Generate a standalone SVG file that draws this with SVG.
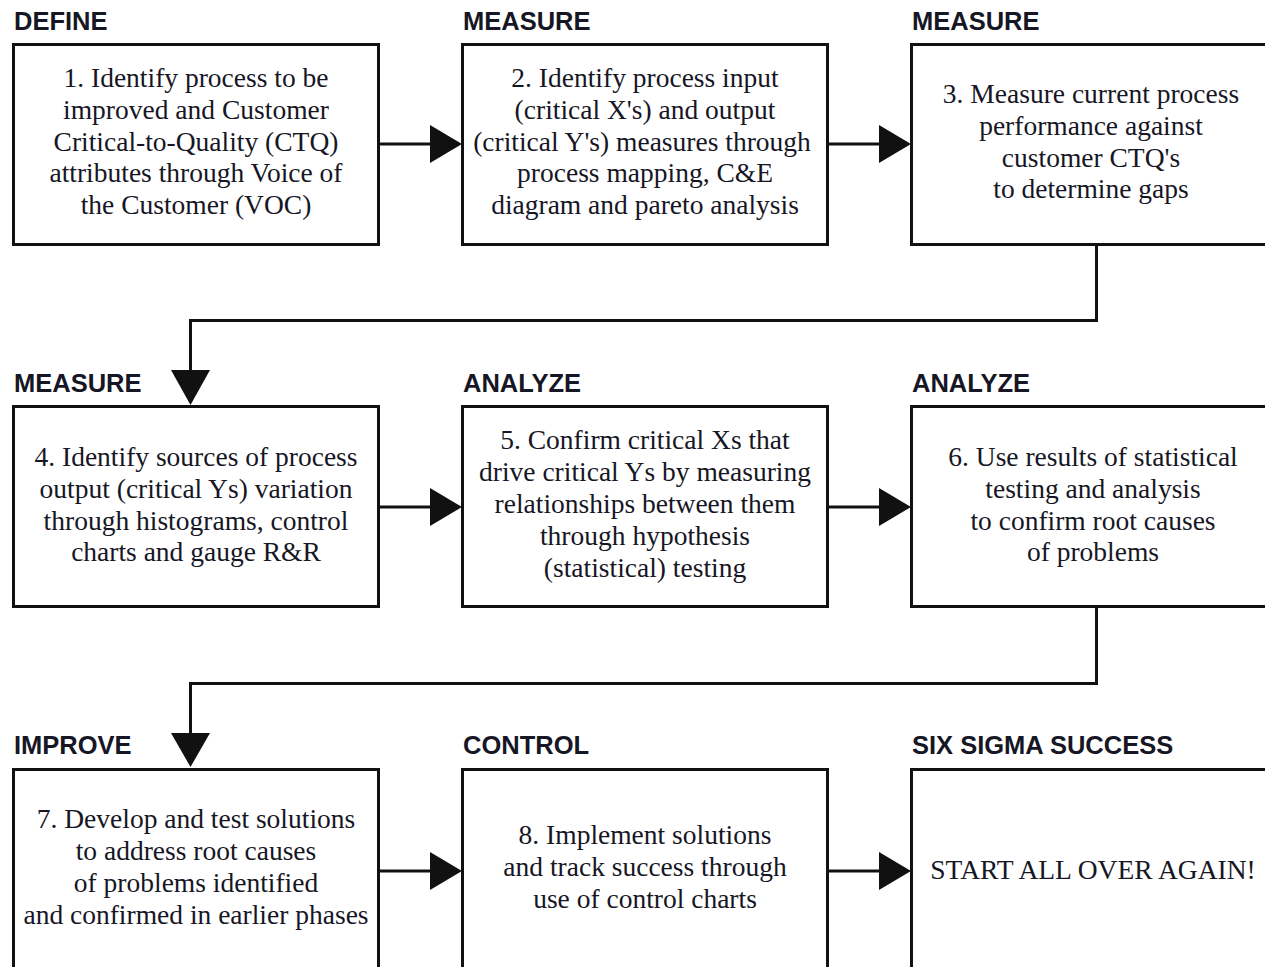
<svg xmlns="http://www.w3.org/2000/svg" width="1265" height="967" viewBox="0 0 1265 967">
<defs>
<style>
.box{fill:#fff;stroke:#111;stroke-width:3}
.hdr{font-family:"Liberation Sans",Arial,sans-serif;font-weight:bold;font-size:25.5px;fill:#161625}
.t{font-family:"Liberation Serif","Times New Roman",serif;font-size:27.5px;fill:#161625;text-anchor:middle}
.ln{fill:none;stroke:#111;stroke-width:3}
.ah{fill:#111}
</style>
</defs>
<rect width="1265" height="967" fill="#fff"/>
<g id="connectors">
<path class="ln" d="M378 144H432"/><polygon class="ah" points="430,125 462,144 430,163"/>
<path class="ln" d="M828 144H881"/><polygon class="ah" points="879,125 911,144 879,163"/>
<path class="ln" d="M1096.5 244V320.5H190.5V372"/><polygon class="ah" points="171,370 190.5,405 210,370"/>
<path class="ln" d="M378 507H432"/><polygon class="ah" points="430,488 462,507 430,526"/>
<path class="ln" d="M828 507H881"/><polygon class="ah" points="879,488 911,507 879,526"/>
<path class="ln" d="M1096.5 606V683.5H190.5V735"/><polygon class="ah" points="171,733 190.5,767 210,733"/>
<path class="ln" d="M378 871H432"/><polygon class="ah" points="430,852 462,871 430,890"/>
<path class="ln" d="M828 871H881"/><polygon class="ah" points="879,852 911,871 879,890"/>
</g>
<g id="n1">
<text class="hdr" x="14" y="30">DEFINE</text>
<rect class="box" x="13.5" y="44.5" width="365" height="200"/>
<text class="t" x="196" y="87">1. Identify process to be</text>
<text class="t" x="196" y="119">improved and Customer</text>
<text class="t" x="196" y="151">Critical-to-Quality (CTQ)</text>
<text class="t" x="196" y="182">attributes through Voice of</text>
<text class="t" x="196" y="214">the Customer (VOC)</text>
</g>
<g id="n2">
<text class="hdr" x="463" y="30">MEASURE</text>
<rect class="box" x="462.5" y="44.5" width="365" height="200"/>
<text class="t" x="645" y="87">2. Identify process input</text>
<text class="t" x="645" y="119">(critical X's) and output</text>
<text class="t" x="642" y="151">(critical Y's) measures through</text>
<text class="t" x="645" y="182">process mapping, C&amp;E</text>
<text class="t" x="645" y="214">diagram and pareto analysis</text>
</g>
<g id="n3">
<text class="hdr" x="912" y="30">MEASURE</text>
<rect class="box" x="911.5" y="44.5" width="365" height="200"/>
<text class="t" x="1091" y="103">3. Measure current process</text>
<text class="t" x="1091" y="135">performance against</text>
<text class="t" x="1091" y="167">customer CTQ's</text>
<text class="t" x="1091" y="198">to determine gaps</text>
</g>
<g id="n4">
<text class="hdr" x="14" y="392">MEASURE</text>
<rect class="box" x="13.5" y="406.5" width="365" height="200"/>
<text class="t" x="196" y="466">4. Identify sources of process</text>
<text class="t" x="196" y="498">output (critical Ys) variation</text>
<text class="t" x="196" y="530">through histograms, control</text>
<text class="t" x="196" y="561">charts and gauge R&amp;R</text>
</g>
<g id="n5">
<text class="hdr" x="463" y="392">ANALYZE</text>
<rect class="box" x="462.5" y="406.5" width="365" height="200"/>
<text class="t" x="645" y="449">5. Confirm critical Xs that</text>
<text class="t" x="645" y="481">drive critical Ys by measuring</text>
<text class="t" x="645" y="513">relationships between them</text>
<text class="t" x="645" y="545">through hypothesis</text>
<text class="t" x="645" y="577">(statistical) testing</text>
</g>
<g id="n6">
<text class="hdr" x="912" y="392">ANALYZE</text>
<rect class="box" x="911.5" y="406.5" width="365" height="200"/>
<text class="t" x="1093" y="466">6. Use results of statistical</text>
<text class="t" x="1093" y="498">testing and analysis</text>
<text class="t" x="1093" y="530">to confirm root causes</text>
<text class="t" x="1093" y="561">of problems</text>
</g>
<g id="n7">
<text class="hdr" x="14" y="754">IMPROVE</text>
<rect class="box" x="13.5" y="769.5" width="365" height="210"/>
<text class="t" x="196" y="828">7. Develop and test solutions</text>
<text class="t" x="196" y="860">to address root causes</text>
<text class="t" x="196" y="892">of problems identified</text>
<text class="t" x="196" y="924">and confirmed in earlier phases</text>
</g>
<g id="n8">
<text class="hdr" x="463" y="754">CONTROL</text>
<rect class="box" x="462.5" y="769.5" width="365" height="210"/>
<text class="t" x="645" y="844">8. Implement solutions</text>
<text class="t" x="645" y="876">and track success through</text>
<text class="t" x="645" y="908">use of control charts</text>
</g>
<g id="n9">
<text class="hdr" x="912" y="754">SIX SIGMA SUCCESS</text>
<rect class="box" x="911.5" y="769.5" width="365" height="210"/>
<text class="t" x="1093" y="879">START ALL OVER AGAIN!</text>
</g>
</svg>
